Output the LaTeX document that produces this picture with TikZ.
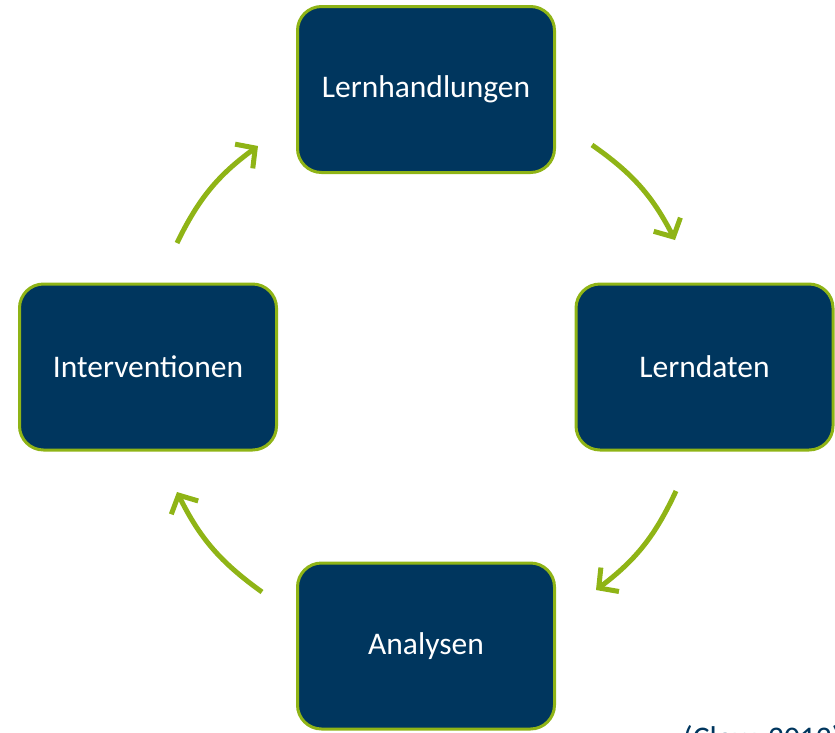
\documentclass[tikz,border=0pt]{standalone}
\usepackage{fontspec}
\setmainfont{Carlito}
\usetikzlibrary{arrows.meta}
\definecolor{navy}{RGB}{0,54,94}
\definecolor{leaf}{RGB}{143,180,22}
\begin{document}
\begin{tikzpicture}[x=1pt,y=-1pt,
  stage/.style={draw=leaf, line width=3pt, fill=navy, rounded corners=24pt,
    minimum width=257pt, minimum height=166pt, text=white, font=\fontsize{31.5}{36}\selectfont, inner sep=0pt},
  cyc/.style={draw=leaf, line width=5pt, -{Straight Barb[length=14pt,width=30pt,line width=5pt]}}]
  \useasboundingbox (0,0) rectangle (835,732);
  \clip (0,0) rectangle (835,732);
  \node[stage] (lh) at (426,89.5) {Lernhandlungen};
  \node[stage] (ld) at (704.5,367) {Lerndaten};
  \node[stage] (an) at (426,646) {Analysen};
  \node[stage] (iv) at (148,367) {Interventionen};
  % cycle arrows
  \coordinate (a1s) at (592,145); \coordinate (a1e) at (675,240);
  \coordinate (a2s) at (676,491); \coordinate (a2e) at (596,590);
  \coordinate (a3s) at (262,592); \coordinate (a3e) at (177,492);
  \coordinate (a4s) at (177,243); \coordinate (a4e) at (258,146);
  \draw[cyc] (a1s) to[bend left=14] (a1e);
  \draw[cyc] (a2s) to[bend left=14] (a2e);
  \draw[cyc] (a3s) to[bend left=14] (a3e);
  \draw[cyc] (a4s) to[bend left=14] (a4e);
  % source note, running off the lower edge
  \node[anchor=north west, inner sep=0pt, text=navy, font=\fontsize{31.5}{36}\selectfont] (src) at (683,725) {(Clow, 2012)};
\end{tikzpicture}
\end{document}
